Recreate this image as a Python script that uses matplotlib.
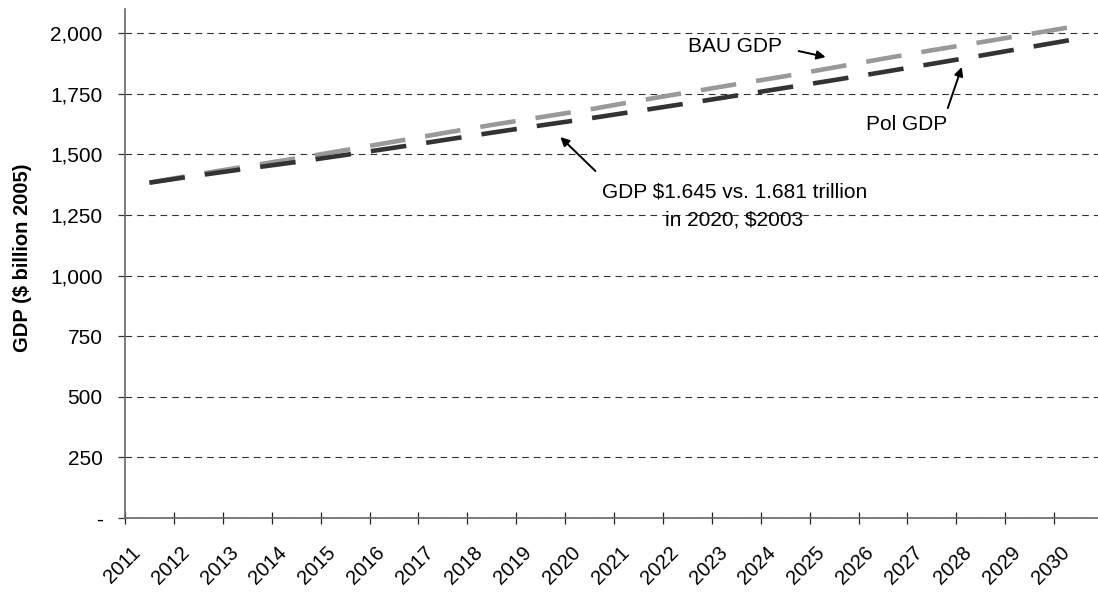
import matplotlib
matplotlib.use("Agg")
import matplotlib.pyplot as plt
import matplotlib.transforms as mtransforms
from matplotlib.ticker import FuncFormatter, FixedLocator
import numpy as np

years = [str(y) for y in range(2011, 2031)]
pol_gdp = [1383, 1413, 1441, 1468, 1497, 1527, 1558, 1589, 1619, 1648,
           1679, 1710, 1742, 1774, 1806, 1839, 1873, 1907, 1942, 1977]
bau_gdp = [1383, 1418, 1451, 1483, 1517, 1552, 1587, 1621, 1653, 1685,
           1721, 1755, 1789, 1822, 1858, 1894, 1929, 1962, 1996, 2030]
y_ticks = [0, 250, 500, 750, 1000, 1250, 1500, 1750, 2000]

plt.rcParams['font.family'] = ['Liberation Sans', 'DejaVu Sans']

W, H = 1098, 593
fig = plt.figure(figsize=(W / 100, H / 100), dpi=100)
ax = fig.add_axes([125 / W, 75 / H, (1103 - 125) / W, (518 - 8.8) / H])

x = np.arange(len(years))
ax.plot(x, bau_gdp, color='#999999', lw=3.3, dashes=(7.8, 4.4),
        solid_capstyle='butt', dash_capstyle='butt', zorder=3)
ax.plot(x, pol_gdp, color='#333333', lw=3.3, dashes=(7.8, 4.4),
        solid_capstyle='butt', dash_capstyle='butt', zorder=4)

ax.set_xlim(-0.5, len(years) - 0.5)
ax.set_ylim(0, 2100)

# y axis
ax.yaxis.set_major_locator(FixedLocator(y_ticks))
ax.yaxis.set_major_formatter(FuncFormatter(lambda v, p: '-' if v == 0 else f'{int(v):,}'))
ax.tick_params(axis='y', direction='out', length=5, width=0.9, color='#333333',
               labelsize=15, pad=11)
ax.grid(axis='y', color='#333333', lw=0.8, dashes=(6, 4.5))

# x axis: labels at category centres, ticks at boundaries
ax.set_xticks(x)
ax.set_xticklabels(years, rotation=45, ha='right', va='center', rotation_mode='anchor')
ax.set_xticks(np.arange(-0.5, len(years) - 0.5, 1.0), minor=True)
ax.tick_params(axis='x', which='major', length=0, labelsize=14.5, pad=24)
ax.tick_params(axis='x', which='minor', direction='inout', length=8.6, width=0.9,
               color='#222222')
offset = mtransforms.ScaledTranslation(-12 / 100, 2 / 100, fig.dpi_scale_trans)
for lab in ax.get_xticklabels():
    lab.set_transform(lab.get_transform() + offset)

for s in ['top', 'right']:
    ax.spines[s].set_visible(False)
for s in ['left', 'bottom']:
    ax.spines[s].set_color('#666666')
    ax.spines[s].set_linewidth(1.2)

ax.set_ylabel('GDP ($ billion 2005)', fontsize=14.5, fontweight='bold')
ax.yaxis.set_label_coords(-0.095, 0.512)

# annotations (pixel -> data helpers)
def px(xp, yp):
    return ((xp - 149.5) / 48.85, (518 - yp) * 2000 / 485)

arrow = dict(arrowstyle='-|>', color='black', lw=1.4, mutation_scale=13, shrinkA=0, shrinkB=0)
ax.text(*px(734, 46), 'BAU GDP', fontsize=15, ha='center', va='center')
ax.annotate('', xy=px(825, 57), xytext=px(798, 51), arrowprops=arrow)
ax.text(*px(906, 124), 'Pol GDP', fontsize=15, ha='center', va='center')
ax.annotate('', xy=px(961, 67), xytext=px(947, 108), arrowprops=arrow)
ax.text(*px(734, 205.5), 'GDP $1.645 vs. 1.681 trillion\nin 2020, $2003', fontsize=15,
        ha='center', va='center', linespacing=1.6)
ax.annotate('', xy=px(560, 137), xytext=px(595, 171), arrowprops=arrow)

fig.savefig('out.png', dpi=100)
